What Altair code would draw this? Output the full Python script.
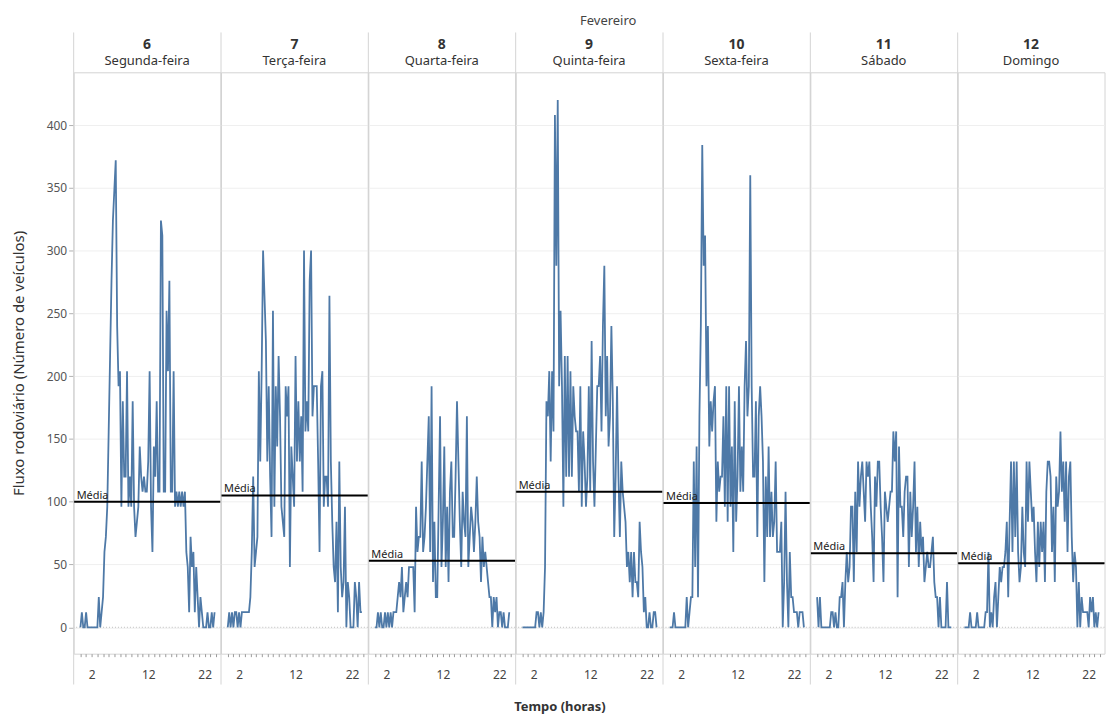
import altair as alt
import pandas as pd

# ---------------- data ----------------
DIAS = ["6", "7", "8", "9", "10", "11", "12"]
SEMANA = ["Segunda-feira", "Terça-feira", "Quarta-feira", "Quinta-feira",
          "Sexta-feira", "Sábado", "Domingo"]
MEDIAS = [100, 105, 53, 108, 99, 59, 51]          # reference line "Média"
HORAS = [i / 4 for i in range(96)]                 # 15-minute time grid (hours)
Y_TICKS = [0, 50, 100, 150, 200, 250, 300, 350, 400]
X_TICKS = list(range(0, 25))
X_LABELS = [2, 12, 22]

FLUXO_06 = [
    0, 12, 0, 0, 12, 0, 0, 0,
    0, 0, 0, 0, 0, 24, 0, 12,
    24, 60, 72, 96, 156, 216, 276, 324,
    348, 372, 240, 192, 204, 96, 180, 120,
    120, 204, 96, 120, 96, 180, 96, 72,
    84, 96, 144, 120, 108, 120, 108, 108,
    132, 204, 96, 60, 144, 120, 180, 108,
    108, 324, 312, 108, 108, 252, 204, 276,
    108, 108, 204, 96, 108, 96, 108, 96,
    108, 96, 108, 60, 48, 12, 72, 48,
    60, 12, 48, 24, 0, 24, 12, 0,
    0, 0, 12, 0, 0, 12, 0, 12,
]
FLUXO_07 = [
    0, 12, 0, 12, 0, 12, 12, 0,
    12, 0, 12, 12, 12, 12, 12, 12,
    24, 60, 120, 48, 60, 72, 204, 132,
    204, 300, 264, 228, 132, 192, 120, 72,
    252, 96, 192, 144, 216, 168, 96, 84,
    72, 192, 168, 192, 48, 144, 120, 96,
    216, 132, 180, 132, 168, 108, 300, 156,
    180, 156, 276, 300, 168, 192, 192, 192,
    132, 60, 192, 204, 96, 120, 120, 96,
    264, 132, 84, 48, 36, 84, 12, 132,
    48, 24, 36, 96, 0, 36, 24, 0,
    0, 0, 36, 24, 0, 36, 12, 12,
]
FLUXO_08 = [
    0, 0, 12, 0, 12, 0, 0, 12,
    0, 12, 0, 12, 0, 12, 12, 12,
    24, 36, 24, 48, 12, 24, 36, 24,
    48, 48, 48, 48, 12, 96, 60, 72,
    72, 132, 60, 72, 96, 132, 168, 60,
    192, 36, 84, 24, 24, 96, 168, 48,
    84, 144, 48, 96, 36, 108, 132, 72,
    72, 120, 180, 132, 84, 48, 108, 84,
    72, 168, 48, 72, 96, 84, 60, 84,
    120, 84, 72, 36, 72, 48, 60, 48,
    36, 24, 24, 0, 24, 12, 24, 0,
    12, 12, 0, 12, 0, 0, 0, 12,
]
FLUXO_09 = [
    0, 0, 0, 0, 0, 0, 0, 0,
    0, 0, 12, 12, 0, 12, 0, 12,
    48, 180, 168, 204, 132, 204, 156, 408,
    288, 420, 192, 252, 192, 96, 216, 120,
    216, 120, 204, 120, 192, 168, 156, 156,
    108, 192, 96, 156, 132, 96, 120, 192,
    108, 228, 132, 96, 144, 192, 192, 216,
    156, 240, 288, 168, 216, 144, 168, 240,
    180, 72, 120, 192, 120, 72, 132, 108,
    96, 84, 48, 60, 36, 60, 24, 60,
    36, 36, 24, 84, 60, 48, 12, 24,
    0, 0, 12, 0, 0, 12, 12, 0,
]
FLUXO_10 = [
    0, 0, 0, 12, 0, 0, 0, 0,
    0, 0, 0, 0, 24, 0, 12, 24,
    24, 132, 48, 144, 24, 168, 240, 384,
    288, 312, 192, 240, 144, 180, 156, 180,
    192, 84, 132, 108, 120, 120, 168, 96,
    192, 84, 192, 96, 144, 60, 180, 84,
    120, 192, 108, 144, 108, 192, 228, 168,
    192, 360, 192, 120, 120, 180, 72, 168,
    192, 168, 132, 36, 120, 72, 144, 72,
    108, 72, 84, 132, 60, 60, 60, 84,
    0, 36, 108, 36, 0, 60, 24, 24,
    12, 12, 12, 0, 12, 12, 12, 0,
]
FLUXO_11 = [
    24, 0, 24, 0, 0, 0, 0, 0,
    0, 0, 12, 12, 0, 12, 0, 0,
    24, 24, 36, 0, 36, 60, 36, 48,
    96, 96, 36, 108, 60, 132, 96, 120,
    132, 108, 84, 132, 120, 132, 96, 72,
    36, 120, 96, 132, 132, 96, 72, 36,
    108, 96, 84, 96, 108, 108, 156, 132,
    156, 24, 144, 96, 96, 72, 108, 120,
    120, 48, 108, 72, 96, 132, 60, 96,
    48, 84, 60, 72, 36, 48, 60, 48,
    48, 60, 72, 36, 24, 24, 0, 24,
    0, 0, 0, 0, 36, 0, 0, 0,
]
FLUXO_12 = [
    0, 0, 0, 0, 12, 0, 0, 0,
    0, 12, 0, 0, 0, 0, 0, 12,
    12, 60, 0, 12, 0, 24, 36, 0,
    24, 48, 36, 48, 48, 60, 84, 24,
    84, 132, 60, 132, 72, 132, 60, 36,
    48, 96, 60, 48, 132, 84, 132, 108,
    84, 96, 60, 36, 84, 48, 84, 60,
    84, 36, 108, 132, 132, 120, 60, 96,
    36, 120, 96, 108, 156, 108, 132, 84,
    132, 60, 120, 132, 72, 36, 60, 48,
    0, 36, 0, 24, 12, 12, 12, 12,
    0, 24, 12, 24, 0, 12, 0, 12,
]
FLUXOS = [FLUXO_06, FLUXO_07, FLUXO_08, FLUXO_09, FLUXO_10, FLUXO_11, FLUXO_12]

# ---------------- style ----------------
FONT = "Noto Sans"
LINE = "#4e79a7"
TXT = "#333333"
W, H = 147.5, 584
X_DOMAIN = [-1.2, 24.8]
Y_DOMAIN = [-21, 442]
SEP_TOP, SEP_BOTTOM = -40, H + 31

label_expr = "indexof(%s, datum.value) >= 0 ? datum.label : ''" % str(X_LABELS)

panels = []
for k, (dia, nome, media, fluxo) in enumerate(zip(DIAS, SEMANA, MEDIAS, FLUXOS)):
    df = pd.DataFrame({"hora": HORAS, "fluxo": fluxo})
    mdf = pd.DataFrame({"media": [media], "rotulo": ["Média"], "zero": [0]})

    if k == 0:
        yaxis = alt.Axis(values=Y_TICKS, title="Fluxo rodoviário (Número de veículos)",
                         titleFontSize=15, titleFontWeight="normal", titleColor=TXT,
                         titlePadding=20, labelFontSize=12, labelColor="#555555",
                         tickSize=5, tickColor="#b0b0b0", domain=False, grid=True,
                         gridColor="#efefef", labelPadding=2)
    else:
        yaxis = alt.Axis(values=Y_TICKS, labels=False, ticks=False, domain=False,
                         title=None, grid=True, gridColor="#efefef", minExtent=0)

    xkw = dict(values=X_TICKS, labelExpr=label_expr, labelOverlap=False,
               labelFlush=False, tickSize=3, tickColor="#999999", domain=False,
               grid=False, labelFontSize=12, labelColor="#444444", labelPadding=13)
    if k == 3:
        xaxis = alt.Axis(title="Tempo (horas)", titleFontSize=13,
                         titleFontWeight="bold", titleColor=TXT, titleX=44,
                         titlePadding=20, **xkw)
    else:
        xaxis = alt.Axis(title=None, **xkw)

    line = alt.Chart(df).mark_line(color=LINE, strokeWidth=1.8).encode(
        x=alt.X("hora:Q", scale=alt.Scale(domain=X_DOMAIN, nice=False, zero=False), axis=xaxis),
        y=alt.Y("fluxo:Q", scale=alt.Scale(domain=Y_DOMAIN, nice=False, zero=False), axis=yaxis),
    )
    zero = alt.Chart(mdf).mark_rule(color="#bdbdbd", strokeDash=[1, 2], strokeWidth=1).encode(
        y="zero:Q")
    rule = alt.Chart(mdf).mark_rule(color="black", strokeWidth=2).encode(y="media:Q")
    text = alt.Chart(mdf).mark_text(align="left", baseline="bottom", dx=3, dy=-1,
                                    fontSize=11, color="#222222").encode(
        y="media:Q", x=alt.value(0), text="rotulo:N")
    sep = alt.Chart(mdf).mark_rule(color="#d4d4d4", strokeWidth=1).encode(
        x=alt.value(0), y=alt.value(SEP_TOP), y2=alt.value(SEP_BOTTOM))

    panel = alt.layer(zero, line, rule, text, sep).properties(
        width=W, height=H,
        title=alt.TitleParams(text=dia, subtitle=nome, fontSize=14, fontWeight="bold",
                              subtitleFontSize=13, subtitleColor=TXT, color=TXT,
                              anchor="middle", frame="group", offset=-36,
                              subtitlePadding=3),
    )
    panels.append(panel)

chart = alt.hconcat(*panels, spacing=0, bounds="flush").properties(
    title=alt.TitleParams("Fevereiro", fontSize=13, fontWeight="normal", color="#444444",
                          anchor="middle", offset=4, dx=50),
    padding={"left": 10, "top": 13, "right": 0, "bottom": 0},
).configure(font=FONT).configure_view(stroke="#d4d4d4")

chart.save("out.html", embed_options={"renderer": "svg", "actions": False})
